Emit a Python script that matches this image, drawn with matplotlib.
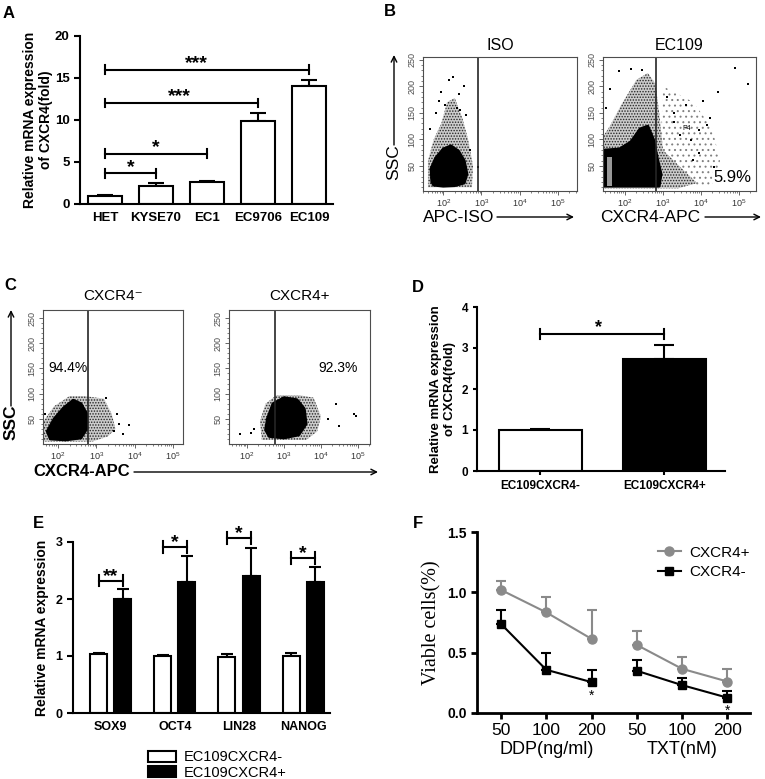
import matplotlib
matplotlib.use("Agg")
import matplotlib.pyplot as plt
import numpy as np
from matplotlib.patches import Polygon, Rectangle, Patch
from matplotlib.lines import Line2D

plt.rcParams["font.family"] = ["Liberation Sans", "DejaVu Sans"]
plt.rcParams["mathtext.fontset"] = "custom"
plt.rcParams["mathtext.rm"] = "Liberation Sans"
plt.rcParams["mathtext.it"] = "Liberation Sans:italic"
plt.rcParams["mathtext.bf"] = "Liberation Sans:bold"
plt.rcParams["hatch.linewidth"] = 0.7

# ---- A: CXCR4 mRNA in cell lines
a_cells = ["HET", "KYSE70", "EC1", "EC9706", "EC109"]
a_means = [1.0, 2.2, 2.6, 9.9, 14.1]
a_errs = [0.05, 0.3, 0.15, 0.9, 0.7]
a_sig = [(0, 4, 16.0, "***"), (0, 3, 12.05, "***"), (0, 2, 6.0, "*"), (0, 1, 3.65, "*")]

# ---- B / C: flow cytometry clouds (x = log10 APC, y = SSC)
iso_core = [(1.70, 20), (1.75, 14), (2.0, 12), (2.3, 13), (2.55, 18), (2.62, 35), (2.55, 60),
            (2.4, 78), (2.2, 88), (2.0, 82), (1.8, 65), (1.68, 45)]
iso_halo = [(1.6, 10), (2.75, 10), (2.78, 50), (2.65, 100), (2.5, 140), (2.3, 178), (2.1, 170),
            (1.95, 130), (1.75, 100), (1.6, 60)]
iso_dots_x = [2.25, 2.15, 2.55, 1.9, 2.05, 2.6, 2.9, 2.4, 1.65, 2.7, 2.35, 1.8, 2.45, 1.95]
iso_dots_y = [218, 212, 200, 172, 165, 145, 48, 185, 120, 80, 160, 150, 155, 190]

ec_core = [(1.45, 12), (2.9, 12), (2.95, 35), (2.85, 65), (2.75, 100), (2.6, 125), (2.4, 120),
           (2.15, 95), (1.85, 82), (1.45, 80)]
ec_halo = [(1.42, 8), (3.4, 8), (3.9, 18), (3.5, 45), (3.0, 80), (2.9, 150), (2.8, 205),
           (2.6, 225), (2.3, 212), (1.9, 165), (1.6, 125), (1.42, 105)]
ec_sparse = [(2.9, 20), (4.4, 10), (4.5, 60), (4.3, 120), (3.8, 170), (3.0, 200)]
ec_stripe = (1.52, 12, 0.14, 55)
ec_dots_x = [4.9, 5.25, 4.45, 4.05, 3.6, 4.25, 3.95, 4.15, 3.45, 3.75, 3.3, 3.95, 3.8, 4.35,
             1.6, 1.85, 2.15, 2.45, 3.1, 3.3, 1.5, 4.4]
ec_dots_y = [235, 205, 190, 172, 165, 140, 118, 128, 108, 98, 132, 75, 62, 48,
             195, 228, 232, 230, 180, 150, 160, 25]

cm_core = [(1.8, 10), (2.2, 8), (2.6, 12), (2.75, 30), (2.75, 60), (2.6, 80), (2.4, 87),
           (2.15, 72), (1.9, 50), (1.72, 25)]
cm_halo = [(1.62, 5), (2.9, 5), (3.3, 15), (3.5, 30), (3.4, 60), (3.2, 90), (2.7, 95),
           (2.3, 95), (1.9, 75), (1.62, 45)]
cm_dots_x = [3.6, 3.45, 3.85, 3.55, 3.7, 1.65, 3.25]
cm_dots_y = [40, 25, 38, 60, 20, 60, 92]

cp_core = [(2.6, 15), (3.0, 12), (3.4, 18), (3.6, 40), (3.55, 70), (3.35, 88), (3.0, 92),
           (2.7, 80), (2.55, 50), (2.5, 28)]
cp_halo = [(2.4, 8), (3.6, 8), (3.9, 25), (4.0, 55), (3.8, 92), (3.4, 97), (2.8, 97),
           (2.5, 80), (2.35, 45)]
cp_dots_x = [1.8, 2.1, 4.4, 4.9, 4.5, 2.2, 4.2, 4.95]
cp_dots_y = [20, 22, 80, 60, 35, 30, 50, 55]

# ---- D
d_groups = ["EC109CXCR4-", "EC109CXCR4+"]
d_means = [1.0, 2.72]
d_errs = [0.03, 0.35]

# ---- E
e_genes = ["SOX9", "OCT4", "LIN28", "NANOG"]
e_neg = [1.03, 1.0, 0.98, 1.0]
e_neg_err = [0.02, 0.01, 0.06, 0.05]
e_pos = [2.0, 2.3, 2.41, 2.29]
e_pos_err = [0.17, 0.45, 0.48, 0.27]
e_sig_y = [2.32, 2.91, 3.07, 2.72]
e_sig_lab = ["**", "*", "*", "*"]

# ---- F
f_doses = ["50", "100", "200", "50", "100", "200"]
f_pos = [1.02, 0.834, 0.614, 0.564, 0.366, 0.261]
f_pos_err = [0.07, 0.13, 0.24, 0.116, 0.10, 0.10]
f_neg = [0.738, 0.358, 0.256, 0.35, 0.231, 0.127]
f_neg_err = [0.115, 0.143, 0.10, 0.09, 0.055, 0.055]

W, H = 765, 779
fig = plt.figure(figsize=(W / 100, H / 100), dpi=100)


def px_axes(l, t, r, b):
    return fig.add_axes([l / W, 1 - b / H, (r - l) / W, (b - t) / H])


def fxy(px, py):
    return (px / W, 1 - py / H)


def prism(ax, lw=1.5):
    for s in ["top", "right"]:
        ax.spines[s].set_visible(False)
    for s in ["left", "bottom"]:
        ax.spines[s].set_linewidth(lw)
    ax.tick_params(direction="out", width=lw, length=4)


def bracket(ax, x0, x1, y, cap, label, fs, tx=None, ty=None, lw=1.5):
    kw = dict(color="k", lw=lw, clip_on=False)
    ax.plot([x0, x1], [y, y], **kw)
    ax.plot([x0, x0], [y - cap, y + cap], **kw)
    ax.plot([x1, x1], [y - cap, y + cap], **kw)
    ax.text((x0 + x1) / 2 if tx is None else tx, y if ty is None else ty, label,
            ha="center", va="bottom", fontsize=fs, fontweight="bold")


def bold_ticks(ax, size):
    for t in ax.get_yticklabels() + ax.get_xticklabels():
        t.set_fontsize(size)
        t.set_fontweight("bold")


# ================= A
ax = px_axes(80, 36, 333, 204)
x = np.arange(len(a_cells))
ax.bar(x, a_means, width=0.66, color="white", edgecolor="k", lw=1.5, zorder=2)
ax.errorbar(x, a_means, yerr=[np.zeros(len(x)), a_errs], fmt="none", ecolor="k",
            elinewidth=1.5, capsize=6, capthick=1.5, zorder=1)
for (i0, i1, y, lab), tx in zip(a_sig, [1.8, 1.45, 1.0, 0.5]):
    bracket(ax, i0, i1, y, 0.5, lab, 14, tx=tx, ty=y - 0.3)
ax.set_xlim(-0.49, 4.47)
ax.set_ylim(0, 20)
ax.set_yticks([0, 5, 10, 15, 20])
ax.set_xticks(x)
ax.set_xticklabels(a_cells)
bold_ticks(ax, 9.5)
ax.set_ylabel("Relative mRNA expression\nof CXCR4(fold)", fontsize=10, fontweight="bold",
              labelpad=1)
prism(ax)
ax.tick_params(axis="x", length=0, pad=6)


# ================= flow panels
def flow_panel(box, xlim, ylim, gate, title, core, halo, dx, dy, sparse=None, stripe=None):
    ax = px_axes(*box)
    if sparse is not None:
        ax.add_patch(Polygon(sparse, closed=True, facecolor="none", edgecolor="0.5",
                             hatch="...", lw=0))
    ax.add_patch(Polygon(halo, closed=True, facecolor="0.8", edgecolor="0.15",
                         hatch="......", lw=0))
    ax.add_patch(Polygon(core, closed=True, facecolor="k", edgecolor="k", lw=2,
                         joinstyle="round"))
    if stripe is not None:
        ax.add_patch(Rectangle(stripe[:2], stripe[2], stripe[3], color="0.6", lw=0))
    ax.scatter(dx, dy, s=1.2, c="k", marker="s", lw=0)
    ax.axvline(gate, color="0.15", lw=1.2)
    ax.set_xlim(*xlim)
    ax.set_ylim(*ylim)
    ax.set_xticks([2, 3, 4, 5])
    ax.set_xticklabels([r"$\mathregular{10^%d}$" % d for d in [2, 3, 4, 5]], fontsize=6.5,
                       color="0.2")
    minors = [n + np.log10(k) for n in range(1, 6) for k in range(2, 10)]
    ax.set_xticks([m for m in minors if xlim[0] < m < xlim[1]], minor=True)
    ax.set_yticks([50, 100, 150, 200, 250])
    ax.set_yticklabels(["50", "100", "150", "200", "250"], rotation=90, va="center",
                       fontsize=6.5, color="0.3")
    ax.set_yticks(np.arange(10, 260, 10), minor=True)
    ax.tick_params(which="major", direction="out", length=3, width=0.6, pad=1.5,
                   color="0.3")
    ax.tick_params(which="minor", direction="out", length=1.5, width=0.5, color="0.3")
    for s in ax.spines.values():
        s.set_linewidth(0.8)
        s.set_color("0.3")
    ax.set_title(title, fontsize=11.5, pad=5)
    return ax


axb1 = flow_panel((423, 57, 577, 191), (1.47, 5.5), (3, 255), 2.92, "ISO", iso_core, iso_halo,
                  iso_dots_x, iso_dots_y)
axb2 = flow_panel((603, 57, 756, 191), (1.42, 5.45), (3, 255), 2.82, "EC109", ec_core, ec_halo,
                  ec_dots_x, ec_dots_y, sparse=ec_sparse, stripe=ec_stripe)
axb2.text(3.63, 121, "P4", fontsize=5, ha="center", va="center")
axb2.text(4.84, 28, "5.9%", fontsize=12, ha="center", va="center",
          bbox=dict(facecolor="white", edgecolor="none", pad=0.5))

axc1 = flow_panel((43, 310, 183, 444), (1.61, 5.26), (0, 266), 2.79, "CXCR4\u207b", cm_core,
                  cm_halo, cm_dots_x, cm_dots_y)
axc1.text(2.25, 151, "94.4%", fontsize=10, ha="center", va="center")
axc2 = flow_panel((229, 310, 370, 444), (1.51, 5.33), (0, 266), 2.76, "CXCR4+", cp_core,
                  cp_halo, cp_dots_x, cp_dots_y)
axc2.text(4.46, 151, "92.3%", fontsize=10, ha="center", va="center")
for a in (axc1, axc2):
    a.set_title(a.get_title(), fontsize=11, pad=7)

# axis arrows (fig pixel coords)
arrow = dict(arrowstyle="->", lw=1.0, color="k", shrinkA=0, shrinkB=0)


def arrow_px(x0, y0, x1, y1):
    fig.add_artist(plt.Annotation("", xy=fxy(x1, y1), xytext=fxy(x0, y0),
                                  xycoords="figure fraction", arrowprops=arrow))


fig.text(*fxy(394, 162), "SSC", rotation=90, ha="center", va="center", fontsize=12.5)
arrow_px(394, 145, 394, 55)
fig.text(*fxy(423, 217), "APC-ISO", ha="left", va="center", fontsize=12.5)
arrow_px(497, 217, 574, 217)
fig.text(*fxy(600, 217), "CXCR4-APC", ha="left", va="center", fontsize=12.5)
arrow_px(705, 217, 761, 217)

fig.text(*fxy(11, 422), "SSC", rotation=90, ha="center", va="center", fontsize=12.5,
         fontweight="bold")
arrow_px(11, 406, 11, 310)
fig.text(*fxy(33, 472), "CXCR4-APC", ha="left", va="center", fontsize=12,
         fontweight="bold")
arrow_px(134, 472, 378, 472)

# ================= D
ax = px_axes(477, 307, 725, 471)
xd = np.arange(2)
ax.bar(xd, d_means, width=0.67, color=["white", "black"], edgecolor="k", lw=1.5, zorder=2)
ax.errorbar(xd, d_means, yerr=[np.zeros(2), d_errs], fmt="none", ecolor="k", elinewidth=1.5,
            capsize=7, capthick=1.5, zorder=1)
bracket(ax, 0, 1, 3.35, 0.12, "*", 13, tx=0.47, ty=3.3)
ax.set_xlim(-0.51, 1.49)
ax.set_ylim(0, 4)
ax.set_yticks([0, 1, 2, 3, 4])
ax.set_xticks(xd)
ax.set_xticklabels(d_groups)
bold_ticks(ax, 8.5)
ax.set_ylabel("Relative mRNA expression\nof CXCR4(fold)", fontsize=9.5, fontweight="bold",
              labelpad=4)
prism(ax)
ax.tick_params(length=3)

# ================= E
ax = px_axes(73, 542, 330, 713)
xe = np.arange(len(e_genes))
off, bw = 0.1875, 0.265
ax.bar(xe - off, e_neg, width=bw, color="white", edgecolor="k", lw=1.5, zorder=2)
ax.bar(xe + off, e_pos, width=bw, color="black", edgecolor="k", lw=1.5, zorder=2)
ax.errorbar(xe - off, e_neg, yerr=[np.zeros(4), e_neg_err], fmt="none", ecolor="k",
            elinewidth=1.5, capsize=4, capthick=1.5, zorder=1)
ax.errorbar(xe + off, e_pos, yerr=[np.zeros(4), e_pos_err], fmt="none", ecolor="k",
            elinewidth=1.5, capsize=4, capthick=1.5, zorder=1)
for i, (y, lab) in enumerate(zip(e_sig_y, e_sig_lab)):
    bracket(ax, i - off, i + off, y, 0.1, lab, 14, ty=y - 0.07)
ax.set_xlim(-0.59, 3.42)
ax.set_ylim(0, 3)
ax.set_yticks([0, 1, 2, 3])
ax.set_xticks(xe)
ax.set_xticklabels(e_genes)
bold_ticks(ax, 9)
ax.set_ylabel("Relative mRNA expression", fontsize=10, fontweight="bold", labelpad=5)
prism(ax)
ax.tick_params(axis="x", length=0, pad=6)
ax.legend(handles=[Patch(facecolor="white", edgecolor="k", lw=1.5, label="EC109CXCR4-"),
                   Patch(facecolor="black", edgecolor="k", lw=1.5, label="EC109CXCR4+")],
          loc="upper left", bbox_to_anchor=(141 / W, 1 - 743 / H),
          bbox_transform=fig.transFigure, frameon=False, fontsize=10.5, borderpad=0,
          handlelength=1.9, handleheight=0.8, handletextpad=0.5, labelspacing=0.1)

# ================= F
ax = px_axes(477, 532, 750, 713)
xf = np.arange(len(f_doses))
grey = "#8a8a8a"
for seg in (slice(0, 3), slice(3, 6)):
    ax.plot(xf[seg], f_pos[seg], color=grey, lw=1.5, marker="o", ms=6.5, zorder=3)
    ax.plot(xf[seg], f_neg[seg], color="k", lw=1.5, marker="s", ms=6, zorder=4)
ax.errorbar(xf, f_pos, yerr=[np.zeros(6), f_pos_err], fmt="none", ecolor=grey,
            elinewidth=1.5, capsize=3.5, capthick=1.5, zorder=2)
ax.errorbar(xf, f_neg, yerr=[np.zeros(6), f_neg_err], fmt="none", ecolor="k",
            elinewidth=1.5, capsize=3.5, capthick=1.5, zorder=2)
ax.text(2, 0.2, "*", ha="center", va="top", fontsize=10)
ax.text(5, 0.075, "*", ha="center", va="top", fontsize=10)
ax.set_xlim(-0.53, 5.5)
ax.set_ylim(0, 1.5)
ax.set_yticks([0.0, 0.5, 1.0, 1.5])
ax.set_yticklabels(["0.0", "0.5", "1.0", "1.5"], fontsize=10, fontweight="bold")
ax.set_xticks(xf)
ax.set_xticklabels(f_doses, fontsize=12.5)
ax.text(1, -0.155, "DDP(ng/ml)", transform=ax.get_xaxis_transform(), ha="center", va="top",
        fontsize=13)
ax.text(4, -0.155, "TXT(nM)", transform=ax.get_xaxis_transform(), ha="center", va="top",
        fontsize=13)
ax.set_ylabel("Viable cells(%)", fontsize=14.5, family="Liberation Serif", labelpad=4)
prism(ax, lw=2)
ax.tick_params(length=4)
ax.legend(handles=[Line2D([], [], color=grey, marker="o", ms=6.5, lw=1.5, label="CXCR4+"),
                   Line2D([], [], color="k", marker="s", ms=6, lw=1.5, label="CXCR4-")],
          loc="upper left", bbox_to_anchor=(650 / W, 1 - 538 / H),
          bbox_transform=fig.transFigure, frameon=False, fontsize=11, borderpad=0,
          handlelength=1.5, handletextpad=0.6, labelspacing=0.35)

# panel letters
for lab, px, py in [("A", 9, 13), ("B", 390, 12), ("C", 10, 285), ("D", 418, 287),
                    ("E", 38, 523), ("F", 418, 523)]:
    fig.text(*fxy(px, py), lab, fontsize=12, fontweight="bold", ha="center", va="center")

fig.savefig("out.png", dpi=100)
